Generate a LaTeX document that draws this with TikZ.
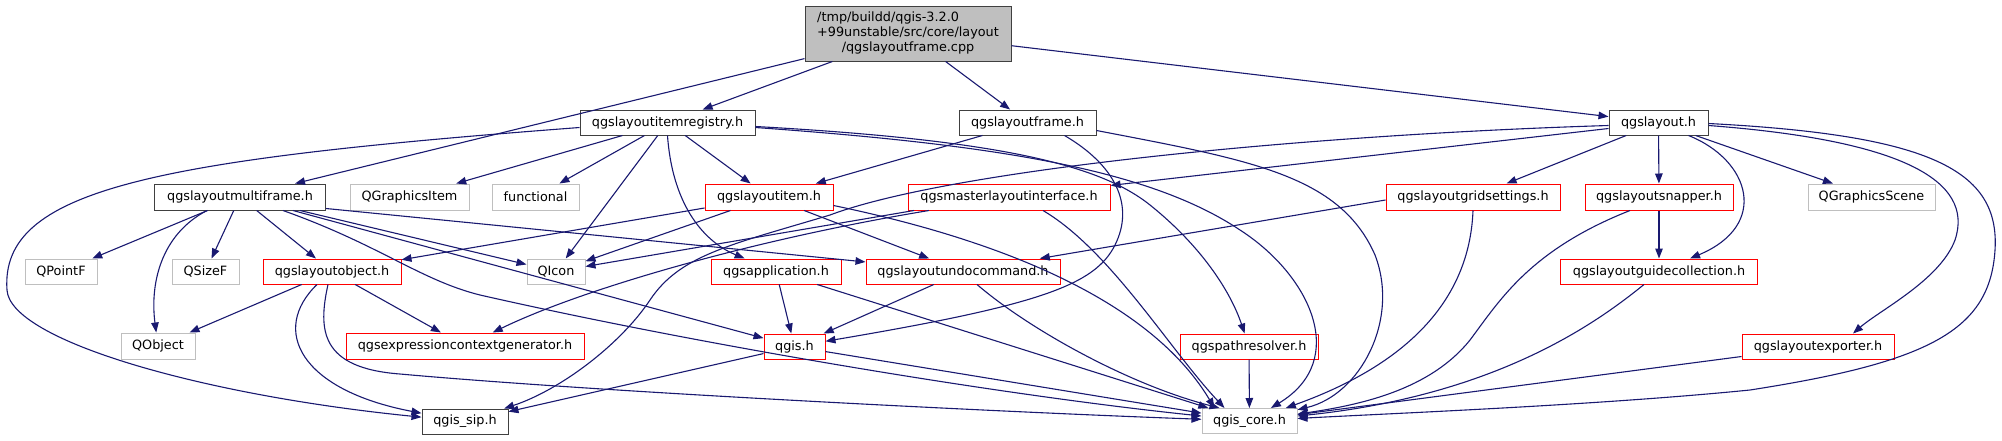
\documentclass[tikz,border=0pt]{standalone}
\usepackage{fontspec}
\newfontfamily\dv{DejaVu Sans}
\usetikzlibrary{arrows.meta}
\definecolor{edgecol}{HTML}{191970}
\definecolor{redb}{HTML}{FF0000}
\definecolor{grayb}{HTML}{BFBFBF}
\definecolor{darkb}{HTML}{404040}
\definecolor{rootfill}{HTML}{BFBFBF}
\begin{document}
\begin{tikzpicture}[x=1pt,y=-1pt,
  nb/.style={draw, fill=white, line width=1pt, inner sep=0pt, font=\dv\fontsize{12.8}{15}\selectfont, text=black},
  blk/.style={nb, draw=darkb},
  rd/.style={nb, draw=redb},
  gy/.style={nb, draw=grayb},
  sz/.style 2 args={minimum width=#1pt, minimum height=#2pt},
  arr/.style={draw=edgecol, line width=1.1pt, -{Triangle[length=10pt,width=7.5pt]}}]
\useasboundingbox (0,0) rectangle (2002,440);
% row 0
\node[blk, fill=rootfill, sz={206}{55}] (root) at (908,33.5) {\begin{tabular}{@{}l@{}}/tmp/buildd/qgis-3.2.0\\+99unstable/src/core/layout\\\multicolumn{1}{@{}c@{}}{/qgslayoutframe.cpp}\end{tabular}};
% row 1
\node[blk, sz={175}{25}] (registry) at (667.5,122.5) {qgslayoutitemregistry.h};
\node[blk, sz={137}{25}] (frame) at (1027.5,122.5) {qgslayoutframe.h};
\node[blk, sz={99}{25}] (layout) at (1658.5,122.5) {qgslayout.h};
% row 2
\node[blk, sz={171}{26}] (multiframe) at (240,197) {qgslayoutmultiframe.h};
\node[gy, sz={119}{26}] (qgi) at (409.5,197) {QGraphicsItem};
\node[gy, sz={87}{26}] (functional) at (535.5,197) {functional};
\node[rd, sz={128}{26}] (item) at (769,197) {qgslayoutitem.h};
\node[rd, sz={202}{26}] (master) at (1009,197) {qgsmasterlayoutinterface.h};
\node[rd, sz={174}{26}] (grid) at (1473,197) {qgslayoutgridsettings.h};
\node[rd, sz={148}{26}] (snapper) at (1659,197) {qgslayoutsnapper.h};
\node[gy, sz={127}{26}] (qgs) at (1871.5,197) {QGraphicsScene};
% row 3
\node[gy, sz={72}{25}] (qpointf) at (61,271.5) {QPointF};
\node[gy, sz={67}{25}] (qsizef) at (205.5,271.5) {QSizeF};
\node[rd, sz={138}{25}] (object) at (332,271.5) {qgslayoutobject.h};
\node[gy, sz={58}{25}] (qicon) at (556,271.5) {QIcon};
\node[rd, sz={130}{25}] (app) at (776,271.5) {qgsapplication.h};
\node[rd, sz={194}{25}] (undo) at (963,271.5) {qgslayoutundocommand.h};
\node[rd, sz={197}{25}] (guide) at (1659,271.5) {qgslayoutguidecollection.h};
% row 4
\node[gy, sz={74}{26}] (qobject) at (158,346) {QObject};
\node[rd, sz={238}{26}] (expr) at (465,346) {qgsexpressioncontextgenerator.h};
\node[rd, sz={61}{25}] (qgis) at (794.5,346.5) {qgis.h};
\node[rd, sz={138}{25}] (pathres) at (1249,346.5) {qgspathresolver.h};
\node[rd, sz={152}{25}] (exporter) at (1818,346.5) {qgslayoutexporter.h};
% row 5
\node[blk, sz={86}{25}] (sip) at (465,421.5) {qgis\_sip.h};
\node[gy, sz={95}{25}] (core) at (1249.5,421) {qgis\_core.h};

% root
\draw[arr] (root) -- (registry);
\draw[arr] (root) -- (multiframe);
\draw[arr] (root) -- (frame);
\draw[arr] (root) -- (layout);
% registry
\draw[arr] ([yshift=-5pt]registry.west) .. controls (150,160) and (0,190) .. (7,290) .. controls (10,340) and (200,395) .. (sip);
\draw[arr] (registry) -- (qgi);
\draw[arr] (registry) -- (functional);
\draw[arr] (registry) -- (qicon);
\draw[arr] (registry.south) .. controls (672,200) and (700,240) .. (app);
\draw[arr] (registry) -- (item);
\draw[arr] ([yshift=-4pt]registry.east) .. controls (1000,140) and (1100,165) .. (1150,205) .. controls (1200,245) and (1230,290) .. (pathres);
\draw[arr] ([yshift=-5pt]registry.east) .. controls (1000,145) and (1150,170) .. (1240,230) .. controls (1310,275) and (1350,360) .. (core);
% frame
\draw[arr] (frame) -- (item);
\draw[arr] ([xshift=37pt]frame.south) .. controls (1115,165) and (1135,205) .. (1115,245) .. controls (1095,285) and (1040,305) .. (qgis);
\draw[arr] ([yshift=-8pt]frame.east) .. controls (1250,160) and (1340,175) .. (1375,255) .. controls (1400,320) and (1360,395) .. (core);
% layout
\draw[arr] ([yshift=-3pt]layout.west) .. controls (1300,135) and (950,170) .. (830,215) .. controls (730,245) and (680,255) .. (650,300) .. controls (620,345) and (560,390) .. (sip);
\draw[arr] ([yshift=-6pt]layout.west) -- (master);
\draw[arr] (layout) -- (grid);
\draw[arr] (layout) -- (snapper);
\draw[arr] ([xshift=30pt]layout.south) .. controls (1750,160) and (1770,225) .. (guide);
\draw[arr] (layout) -- (qgs);
\draw[arr] ([yshift=-3pt]layout.east) .. controls (1900,140) and (1975,180) .. (1955,240) .. controls (1940,280) and (1880,310) .. ([xshift=35pt]exporter.north);
\draw[arr] ([yshift=-1pt]layout.east) .. controls (1930,135) and (2000,170) .. (1995,250) .. controls (1990,330) and (1930,362) .. (1750,390) .. controls (1600,405) and (1400,413) .. (core);
% grid
\draw[arr] ([yshift=-3pt]grid.west) -- (undo);
\draw[arr] (grid.south) .. controls (1470,290) and (1420,360) .. (core);
% snapper
\draw[arr] (snapper) -- (guide);
\draw[arr] ([xshift=-29pt]snapper.south) .. controls (1530,250) and (1500,300) .. (1470,340) .. controls (1430,390) and (1360,405) .. (core);
% guide, exporter, pathres
\draw[arr] ([xshift=-15pt]guide.south) .. controls (1600,320) and (1500,395) .. (core);
\draw[arr] ([yshift=-10pt]exporter.west) -- (core);
\draw[arr] (pathres) -- (core);
% undo
\draw[arr] (undo) -- (qgis);
\draw[arr] ([xshift=14pt]undo.south) .. controls (1030,330) and (1130,385) .. ([xshift=-30pt]core.north);
% app
\draw[arr] (app) -- (qgis);
\draw[arr] (app) -- (core);
% qgis
\draw[arr] (qgis) -- (sip);
\draw[arr] (qgis) -- (core);
% object
\draw[arr] (object) -- (qobject);
\draw[arr] (object) -- (expr);
\draw[arr] ([xshift=-15pt]object.south) .. controls (270,330) and (300,390) .. (sip);
\draw[arr] ([xshift=-4pt]object.south) .. controls (318,330) and (320,368) .. (400,374) .. controls (600,392) and (1000,412) .. (core);
% multiframe
\draw[arr] (multiframe) -- (qpointf);
\draw[arr] ([xshift=-33pt]multiframe.south) .. controls (160,235) and (150,285) .. (qobject);
\draw[arr] (multiframe) -- (qsizef);
\draw[arr] (multiframe) -- (object);
\draw[arr] ([xshift=60pt]multiframe.south) -- (qicon);
\draw[arr] ([xshift=53pt]multiframe.south) -- (qgis);
\draw[arr] ([xshift=43pt]multiframe.south) .. controls (380,245) and (420,280) .. (480,295) .. controls (700,345) and (1000,395) .. (core);
\draw[arr] ([yshift=2pt]multiframe.south east) -- (undo);
% item
\draw[arr] (item) -- (object);
\draw[arr] (item) -- (qicon);
\draw[arr] (item) -- (undo);
\draw[arr] ([yshift=5pt]item.south east) .. controls (1000,240) and (1150,300) .. ([xshift=-35pt]core.north);
% master
\draw[arr] ([xshift=-95pt]master.south) -- (qicon);
\draw[arr] ([xshift=-80pt]master.south) .. controls (750,240) and (580,290) .. (expr);
\draw[arr] ([xshift=34pt]master.south) .. controls (1110,250) and (1170,350) .. ([xshift=-25pt]core.north);
\end{tikzpicture}
\end{document}
